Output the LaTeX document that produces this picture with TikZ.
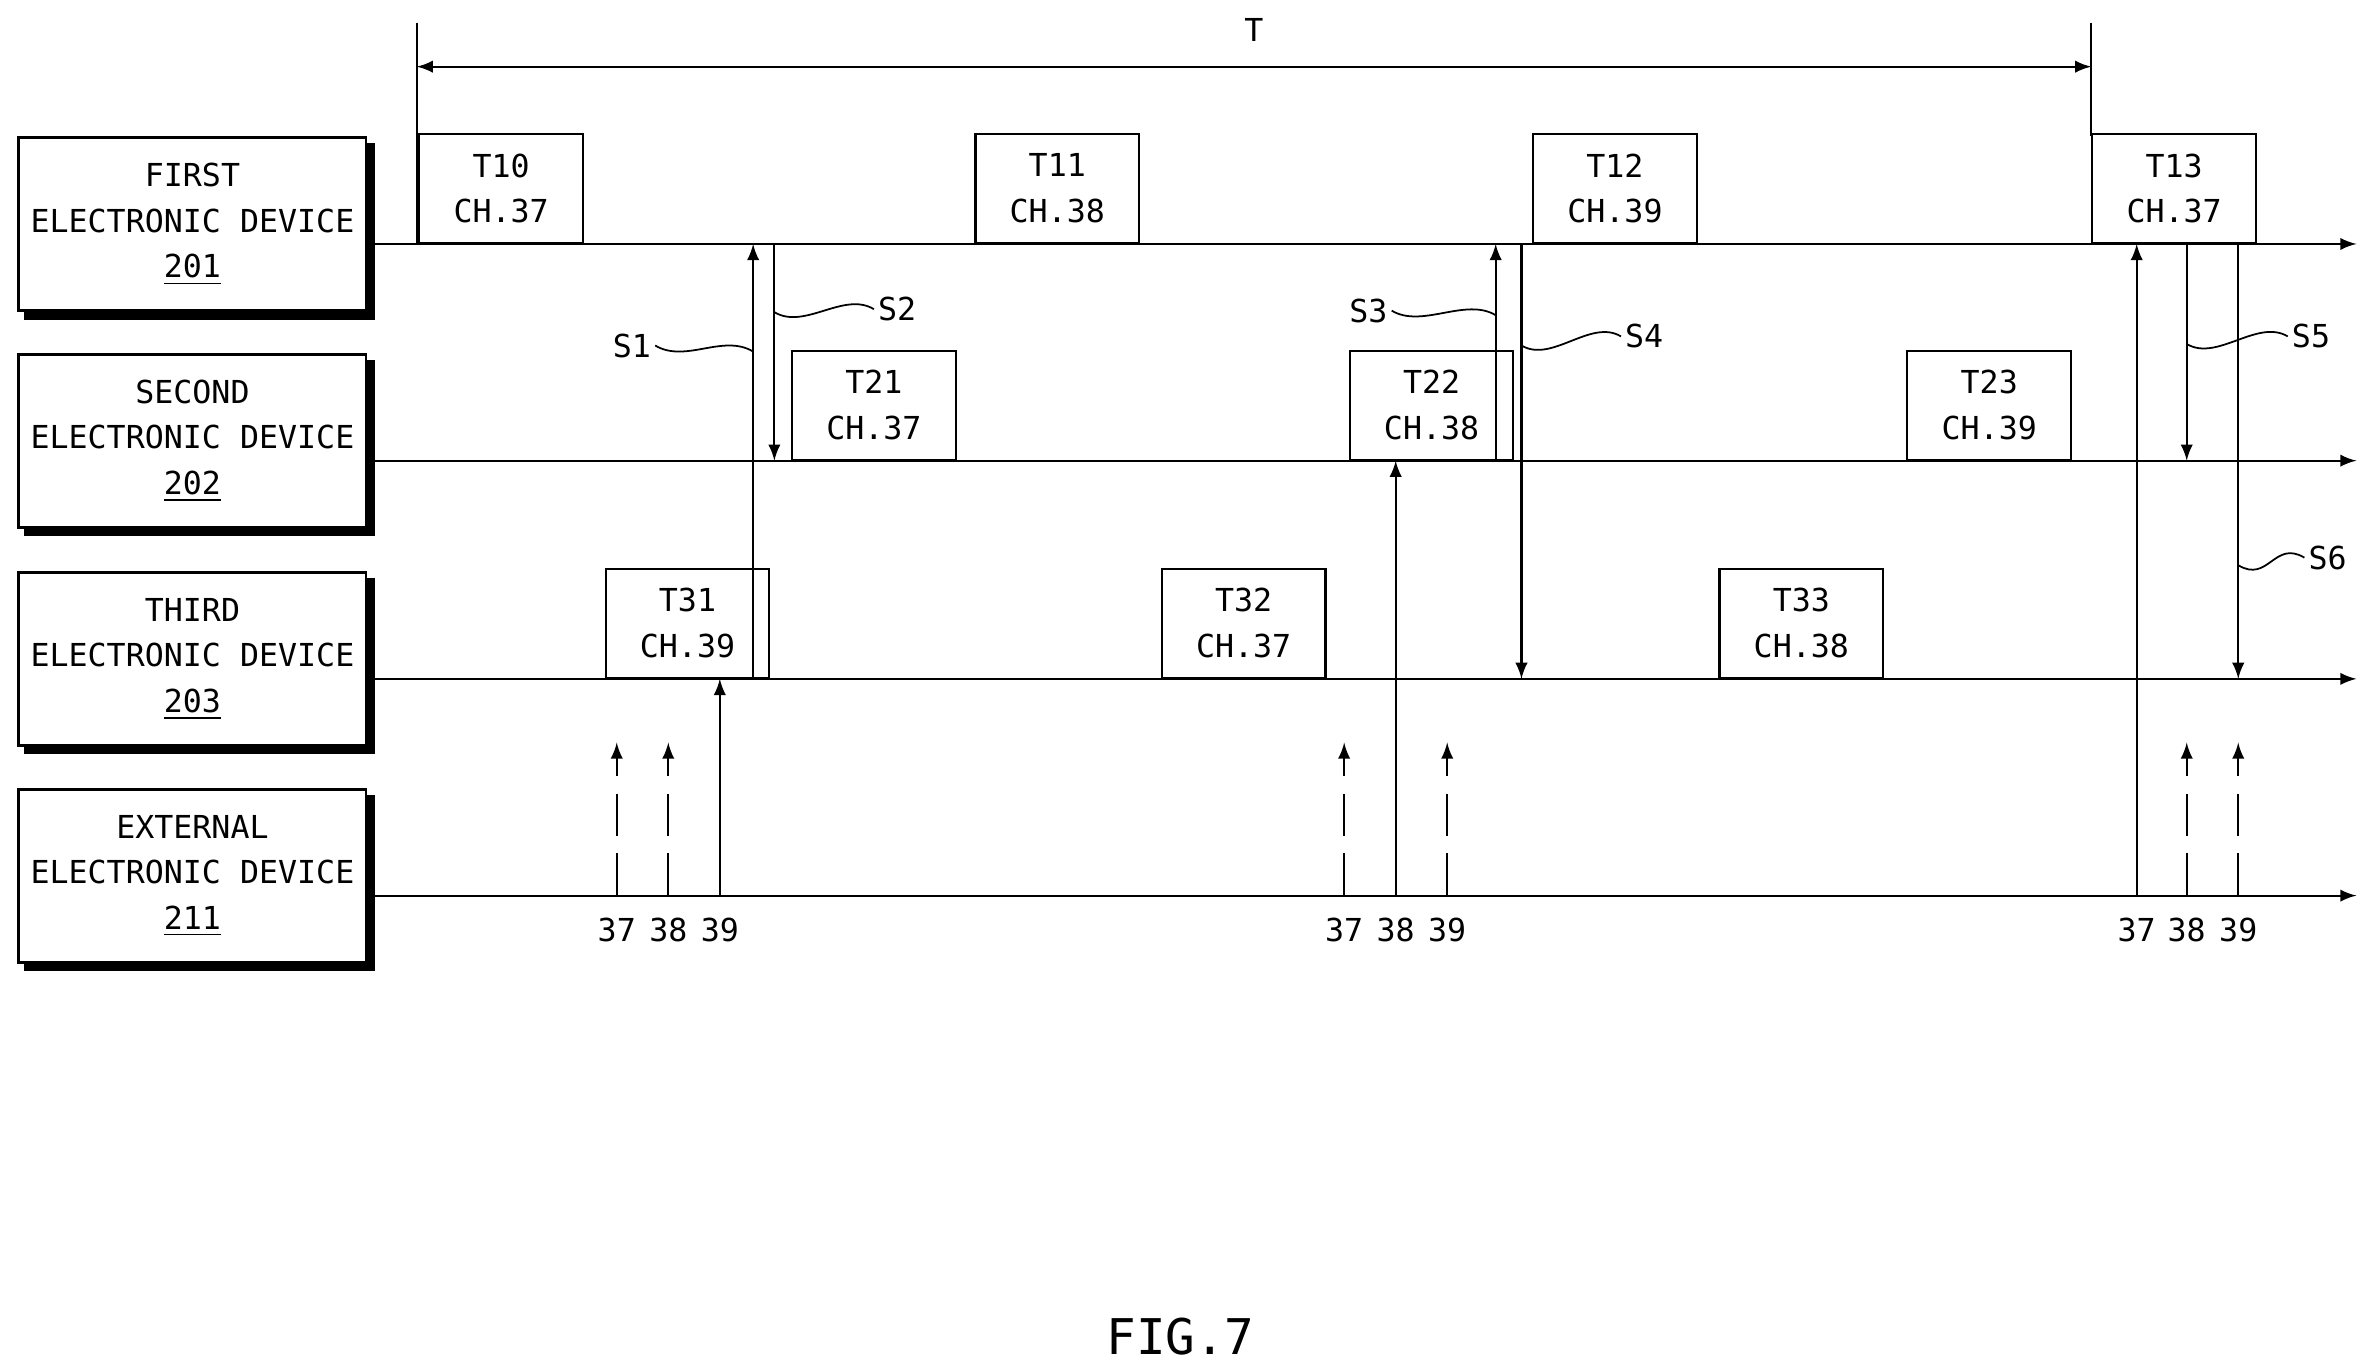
\documentclass[tikz,border=0pt]{standalone}
\usepackage{fontspec}
\setmonofont{DejaVu Sans Mono}
\usetikzlibrary{positioning}
\tikzset{
  dev/.style={draw, line width=0.8pt, minimum width=3.42cm, minimum height=1.73cm, align=center, font=\ttfamily\fontsize{9}{13}\selectfont},
  slot/.style={draw, line width=0.6pt, anchor=south west, minimum width=1.636cm, minimum height=1.09cm, align=center, font=\ttfamily\fontsize{9}{13}\selectfont},
  lbl/.style={font=\ttfamily\fontsize{9}{11}\selectfont, inner sep=1pt},
  sig/.style={-latex, line width=0.6pt},
  ext/.style={-latex, line width=0.6pt, dash pattern=on 12pt off 5pt}
}
\newcommand\wave[2]{\draw[line width=0.5pt] (#1) .. controls +(20,12) and +(-20,-12) .. (#2);}
\begin{document}
\begin{tikzpicture}[x=0.01515cm, y=-0.01515cm]
\useasboundingbox (0,0) rectangle (1560,905);

% Geraete
\node[dev] (D1) at (127,148) {FIRST\\ELECTRONIC DEVICE\\\underline{201}};
\node[dev] (D2) at (127,291) {SECOND\\ELECTRONIC DEVICE\\\underline{202}};
\node[dev] (D3) at (127,435) {THIRD\\ELECTRONIC DEVICE\\\underline{203}};
\node[dev] (D4) at (127,578) {EXTERNAL\\ELECTRONIC DEVICE\\\underline{211}};
\foreach \d in {D1,D2,D3,D4}
  \draw[line width=2.2pt] ([xshift=2pt,yshift=-1pt]\d.south west) -- ([xshift=1pt,yshift=-1pt]\d.south east) -- ([xshift=1pt,yshift=-2pt]\d.north east);

% Zeitachsen
\coordinate (L1) at (242,161); \coordinate (E1) at (1555,161);
\coordinate (L2) at (242,304); \coordinate (E2) at (1555,304);
\coordinate (L3) at (242,448); \coordinate (E3) at (1555,448);
\coordinate (L4) at (242,591); \coordinate (E4) at (1555,591);
\foreach \i in {1,2,3,4} \draw[-latex, line width=0.6pt] (L\i) -- (E\i);

% Periode T
\coordinate (Ta) at (275,15); \coordinate (Tb) at (1380,15);
\draw[line width=0.6pt] (Ta) -- (275,161);
\draw[line width=0.6pt] (Tb) -- (1380,90);
\draw[latex-latex, line width=0.6pt] (275,44) -- node[lbl, above=6pt] (Tlab) {T} (1380,44);

% Zeitschlitze
\node[slot] (T10) at (276,161) {T10\\CH.37};
\node[slot] (T11) at (643,161) {T11\\CH.38};
\node[slot] (T12) at (1011,161) {T12\\CH.39};
\node[slot] (T13) at (1380,161) {T13\\CH.37};
\node[slot] (T21) at (522,304) {T21\\CH.37};
\node[slot] (T22) at (890,304) {T22\\CH.38};
\node[slot] (T23) at (1258,304) {T23\\CH.39};
\node[slot] (T31) at (399,448) {T31\\CH.39};
\node[slot] (T32) at (766,448) {T32\\CH.37};
\node[slot] (T33) at (1134,448) {T33\\CH.38};

% Signale
\draw[sig] (497,448) -- (497,161);
\draw[sig] (511,161) -- (511,304);
\draw[sig] (987,304) -- (987,161);
\draw[sig] (1004,161) -- (1004,448);
\draw[sig] (1443,161) -- (1443,304);
\draw[sig] (1477,161) -- (1477,448);
\draw[sig] (475,591) -- (475,448);
\draw[sig] (921,591) -- (921,304);
\draw[sig] (1410,591) -- (1410,161);

% Werbekanaele
\foreach \x in {407,441,887,955,1443,1477}
  \draw[ext] (\x,591) -- (\x,490);
\foreach \x/\c in {407/37,441/38,475/39,887/37,921/38,955/39,1410/37,1443/38,1477/39}
  \node[lbl] at (\x,614) {\c};

% Bezeichnungen
\node[lbl] (S1) at (417,228) {S1};
\node[lbl] (S2) at (592,204) {S2};
\node[lbl] (S3) at (903,205) {S3};
\node[lbl] (S4) at (1085,222) {S4};
\node[lbl] (S5) at (1525,222) {S5};
\node[lbl] (S6) at (1536,368) {S6};
\wave{S1.east}{497,232}
\wave{511,206}{S2.west}
\wave{S3.east}{987,208}
\wave{1004,228}{S4.west}
\wave{1443,227}{S5.west}
\wave{1477,373}{S6.west}

\node[font=\ttfamily\fontsize{14}{16}\selectfont] (fig) at (779,882) {FIG.7};
\end{tikzpicture}
\end{document}
